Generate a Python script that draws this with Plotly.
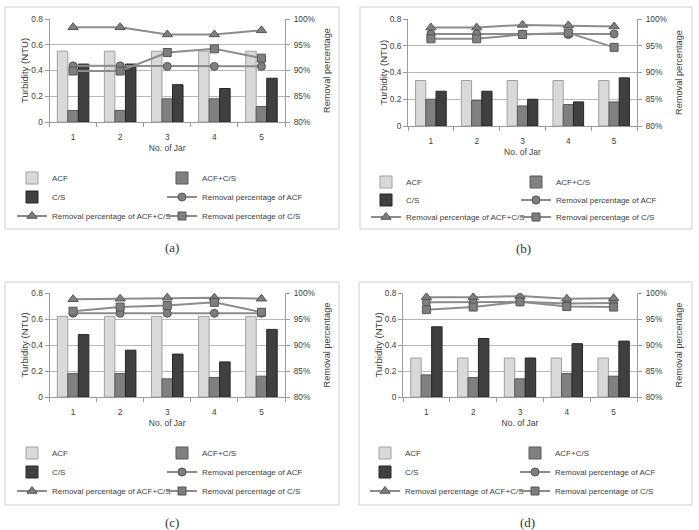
import plotly.graph_objects as go

W, H = 699, 530

jars = ["1", "2", "3", "4", "5"]
series_names = ["ACF", "ACF+C/S", "C/S",
                "Removal percentage of ACF",
                "Removal percentage of ACF+C/S",
                "Removal percentage of C/S"]

# Panel (a)
a_acf = [0.55, 0.55, 0.55, 0.55, 0.55]
a_acf_cs = [0.09, 0.09, 0.18, 0.18, 0.12]
a_cs = [0.45, 0.45, 0.29, 0.26, 0.34]
a_rem_acf = [90.9, 90.9, 90.8, 90.8, 90.8]
a_rem_acf_cs = [98.4, 98.4, 97.0, 97.0, 97.8]
a_rem_cs = [89.9, 89.9, 93.5, 94.2, 92.4]

# Panel (b)
b_acf = [0.34, 0.34, 0.34, 0.34, 0.34]
b_acf_cs = [0.20, 0.19, 0.15, 0.16, 0.18]
b_cs = [0.26, 0.26, 0.20, 0.18, 0.36]
b_rem_acf = [97.2, 97.2, 97.2, 97.1, 97.2]
b_rem_acf_cs = [98.4, 98.4, 98.9, 98.8, 98.6]
b_rem_cs = [96.3, 96.3, 97.1, 97.4, 94.7]

# Panel (c)
c_acf = [0.62, 0.62, 0.62, 0.62, 0.62]
c_acf_cs = [0.18, 0.18, 0.14, 0.15, 0.16]
c_cs = [0.48, 0.36, 0.33, 0.27, 0.52]
c_rem_acf = [96.1, 96.1, 96.1, 96.1, 96.1]
c_rem_acf_cs = [98.8, 98.9, 99.1, 99.1, 98.9]
c_rem_cs = [96.5, 97.3, 97.6, 98.2, 96.3]

# Panel (d)
d_acf = [0.30, 0.30, 0.30, 0.30, 0.30]
d_acf_cs = [0.17, 0.15, 0.14, 0.18, 0.16]
d_cs = [0.54, 0.45, 0.30, 0.41, 0.43]
d_rem_acf = [98.2, 98.2, 98.3, 98.0, 98.1]
d_rem_acf_cs = [99.2, 99.2, 99.4, 98.9, 99.0]
d_rem_cs = [96.8, 97.3, 98.3, 97.4, 97.3]

left_ticks = [0, 0.2, 0.4, 0.6, 0.8]
left_ticktext = ["0", "0.2", "0.4", "0.6", "0.8"]
right_ticks = [80, 85, 90, 95, 100]
right_ticktext = ["80%", "85%", "90%", "95%", "100%"]
panel_labels = ["(a)", "(b)", "(c)", "(d)"]

panels = [
    [a_acf, a_acf_cs, a_cs, a_rem_acf, a_rem_acf_cs, a_rem_cs],
    [b_acf, b_acf_cs, b_cs, b_rem_acf, b_rem_acf_cs, b_rem_cs],
    [c_acf, c_acf_cs, c_cs, c_rem_acf, c_rem_acf_cs, c_rem_cs],
    [d_acf, d_acf_cs, d_cs, d_rem_acf, d_rem_acf_cs, d_rem_cs],
]

# geometry in pixels
geo = [
    dict(plot=(49.5, 285, 19, 122), box=(5, 339, 7, 229), leg_x=12, rows=(178, 197, 216), label=(172, 247)),
    dict(plot=(408, 637, 19, 126), box=(360, 692, 7, 229), leg_x=366, rows=(182, 200, 217), label=(523, 248)),
    dict(plot=(49.5, 285, 293, 397), box=(5, 339, 282, 505), leg_x=12, rows=(453, 472, 491), label=(172, 522)),
    dict(plot=(403, 637, 293, 397), box=(359, 692, 282, 505), leg_x=365, rows=(453, 472, 491), label=(527, 522)),
]


def px(x):
    return x / W


def py(y):
    return 1 - y / H


FONT = "Liberation Sans, Arial, sans-serif"
TXT = "#404040"
AXC = "#9a9a9a"
GRID = "#b8b8b8"

bar_fill = ["#d9d9d9", "#808080", "#404040"]
bar_edge = ["#a0a0a0", "#5a5a5a", "#262626"]
line_symbols = ["circle", "triangle-up", "square"]
line_sizes = [8, 9, 8]
# (legend row, column) for each series
leg_pos = [(0, 0), (0, 1), (1, 0), (1, 1), (2, 0), (2, 1)]

fig = go.Figure()
layout = dict(
    width=W, height=H,
    margin=dict(l=0, r=0, t=0, b=0, autoexpand=False),
    paper_bgcolor="white", plot_bgcolor="white",
    barmode="group", bargap=0.33, bargroupgap=0,
    font=dict(family=FONT, size=8.3, color=TXT),
    showlegend=True,
    annotations=[], shapes=[],
)

for i, vals in enumerate(panels):
    g = geo[i]
    xa = "x" if i == 0 else f"x{i + 1}"
    yl = "y" if i == 0 else f"y{2 * i + 1}"
    yr = f"y{2 * i + 2}"
    for j in range(6):
        row, col = leg_pos[j]
        k = 3 * i + row + 1
        leg = "legend" if k == 1 else f"legend{k}"
        lw = 105 if col == 0 else 160
        if j < 3:
            fig.add_trace(go.Bar(
                x=jars, y=vals[j], name=series_names[j], xaxis=xa, yaxis=yl,
                marker=dict(color=bar_fill[j], line=dict(color=bar_edge[j], width=1)),
                legend=leg, legendwidth=lw, hoverinfo="skip"))
        else:
            m = j - 3
            fig.add_trace(go.Scatter(
                x=jars, y=vals[j], name=series_names[j], xaxis=xa, yaxis=yr,
                mode="lines+markers",
                line=dict(color="#8c8c8c", width=2),
                marker=dict(symbol=line_symbols[m], size=line_sizes[m], color="#7f7f7f",
                            line=dict(color="#555555", width=1)),
                legend=leg, legendwidth=lw, hoverinfo="skip"))

    x0, x1, y0, y1 = g["plot"]
    xkey = "xaxis" if i == 0 else f"xaxis{i + 1}"
    ylkey = "yaxis" if i == 0 else f"yaxis{2 * i + 1}"
    yrkey = f"yaxis{2 * i + 2}"
    layout[xkey] = dict(
        domain=[px(x0), px(x1)], anchor=yl, type="category",
        categoryorder="array", categoryarray=jars,
        showline=True, linecolor=AXC, linewidth=1,
        ticks="outside", tickson="boundaries", ticklen=4, tickcolor=AXC,
        showgrid=False, ticklabelstandoff=7,
        tickfont=dict(size=8.3, color=TXT),
        title=dict(text="No. of Jar", font=dict(size=8.5, color=TXT), standoff=4),
    )
    layout[ylkey] = dict(
        domain=[py(y1), py(y0)], anchor=xa, range=[0, 0.8],
        tickvals=left_ticks, ticktext=left_ticktext,
        showgrid=True, gridcolor=GRID, gridwidth=1, zeroline=False,
        showline=True, linecolor=AXC, linewidth=1,
        ticks="outside", ticklen=4, tickcolor=AXC,
        tickfont=dict(size=8.3, color=TXT),
        title=dict(text="Turbidity (NTU)", font=dict(size=9.6, color=TXT), standoff=0),
    )
    layout[yrkey] = dict(
        overlaying=yl, anchor=xa, side="right", range=[80, 100],
        tickvals=right_ticks, ticktext=right_ticktext,
        showgrid=False, zeroline=False,
        showline=True, linecolor=AXC, linewidth=1,
        ticks="outside", ticklen=4, tickcolor=AXC, ticklabelstandoff=2,
        tickfont=dict(size=8.3, color=TXT),
        title=dict(text="Removal percentage", font=dict(size=9.2, color=TXT), standoff=9),
    )
    for r in range(3):
        k = 3 * i + r + 1
        lkey = "legend" if k == 1 else f"legend{k}"
        layout[lkey] = dict(
            orientation="h", x=px(g["leg_x"]), y=py(g["rows"][r]),
            xanchor="left", yanchor="middle",
            bgcolor="rgba(0,0,0,0)", borderwidth=0,
            font=dict(family=FONT, size=8.0, color=TXT),
            itemwidth=30, tracegroupgap=0,
        )
    bx0, bx1, by0, by1 = g["box"]
    layout["shapes"].append(dict(
        type="rect", xref="paper", yref="paper",
        x0=px(bx0), x1=px(bx1), y0=py(by1), y1=py(by0),
        line=dict(color="#cfcfcf", width=1), fillcolor="rgba(0,0,0,0)", layer="below"))
    lx, ly = g["label"]
    layout["annotations"].append(dict(
        text=panel_labels[i], x=px(lx), y=py(ly), xref="paper", yref="paper",
        showarrow=False, xanchor="center", yanchor="middle",
        font=dict(family="Liberation Serif, DejaVu Serif, serif", size=13, color="#333333")))

fig.update_layout(**layout)
fig.write_html("out.html")
